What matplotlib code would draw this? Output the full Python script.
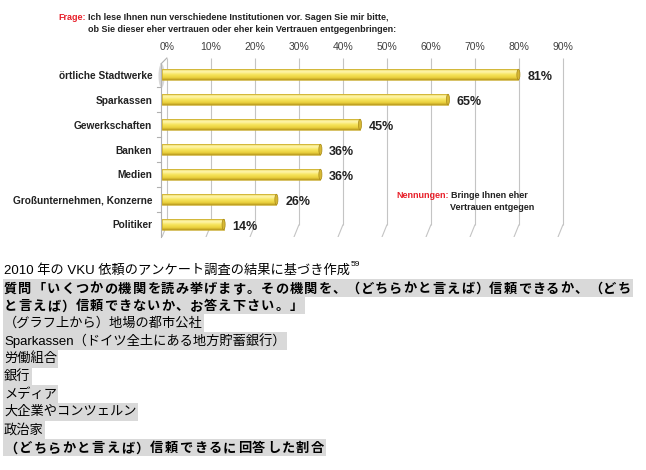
#!/usr/bin/env python3
"""
Vertrauen in Institutionen (VKU 2010) - Balkendiagramm mit japanischer Legende darunter
"""

import numpy as np
import matplotlib.pyplot as plt
from matplotlib.patches import Rectangle, Ellipse
from matplotlib.colors import LinearSegmentedColormap

# data
categories = ["örtliche Stadtwerke", "Sparkassen", "Gewerkschaften", "Banken",
              "Medien", "Großunternehmen, Konzerne", "Politiker"]
values = [81, 65, 45, 36, 36, 26, 14]
ticks = np.arange(0, 100, 10)
tick_labels = [f"{t}%" for t in ticks]

question = ["Ich lese Ihnen nun verschiedene Institutionen vor. Sagen Sie mir bitte,",
            "ob Sie dieser eher vertrauen oder eher kein Vertrauen entgegenbringen:"]
mentions = ["Bringe Ihnen eher", "Vertrauen entgegen"]

source_line = "2010 年の VKU 依頼のアンケート調査の結果に基づき作成"
source_note = "59"
# first line is cut at the right edge of the page, as in the original
jp_lines = ["質問「いくつかの機関を読み挙げます。その機関を、（どちらかと言えば）信頼できるか、（どち",
            "と言えば）信頼できないか、お答え下さい。」",
            "（グラフ上から）地場の都市公社",
            "Sparkassen（ドイツ全土にある地方貯蓄銀行）",
            "労働組合",
            "銀行",
            "メディア",
            "大企業やコンツェルン",
            "政治家",
            "（どちらかと言えば）信頼できるに回答した割合"]
jp_bold = [True, True, False, False, False, False, False, False, False, True]

W, H = 646, 470
LAT = "Liberation Sans"
JP = [LAT, "Noto Sans CJK JP", "DejaVu Sans"]


def fx(x):
	return x / W


def fy(y):
	return 1 - y / H


fig = plt.figure(figsize=(W / 100, H / 100), dpi=100)
fig.patch.set_facecolor("white")

# chart area (pixels: left 162, right 566, top 58, bottom 237)
ax = fig.add_axes([fx(162), fy(237), fx(404), 179 / H])
px_per_pct = 4.4
ax.set_xlim(0, 404 / px_per_pct)
row0, row_h = 74.5, 25.0
ax.set_ylim((237 - row0) / row_h, (58 - row0) / row_h)
for s in ax.spines.values():
	s.set_visible(False)

depth = 1.1                       # 3d offset of back wall in %
wall_bottom = (225 - row0) / row_h
floor = (237 - row0) / row_h
top = (58 - row0) / row_h
grid_col = "#c4c4c4"

ax.vlines(ticks + depth, top, wall_bottom, color=grid_col, lw=0.8, zorder=1)
for t in ticks:
	ax.plot([t + depth, t], [wall_bottom, floor], color=grid_col, lw=0.8, zorder=1)
# left wall
lw_x = -0.25
front_top = (64 - row0) / row_h
ax.plot([lw_x, lw_x], [front_top, floor], color="#b0b0b0", lw=0.8, clip_on=False, zorder=1)
ax.plot([lw_x, depth], [front_top, top], color="#b0b0b0", lw=0.8, clip_on=False, zorder=1)
for b in np.arange(len(categories) - 1) + 0.5:
	ax.plot([lw_x - 1.0, lw_x], [b, b], color="#b0b0b0", lw=0.8, clip_on=False, zorder=1)
# soft shadow on the left wall next to the first bar
ax.add_patch(Ellipse((-0.1, 0.05), 1.4, 0.95, fc="#b8b8b8", ec="none", alpha=0.55,
                     clip_on=False, zorder=1))

# cylinder bars
cyl = LinearSegmentedColormap.from_list("cyl", [(0, "#e8d24e"), (0.22, "#fff7b4"),
                                                (0.5, "#f7e55c"), (0.8, "#ead03c"),
                                                (1, "#b4941c")])
grad = np.linspace(0, 1, 64).reshape(-1, 1)
bar_h = 0.42
for i, v in enumerate(values):
	ax.imshow(grad, cmap=cyl, aspect="auto", interpolation="bicubic",
	          extent=[0, v, i + bar_h / 2, i - bar_h / 2], zorder=3)
	ax.add_patch(Rectangle((0, i - bar_h / 2), v, bar_h, fill=False,
	                       ec="#c8aa2a", lw=0.5, zorder=4))
	ax.add_patch(Ellipse((v, i), 0.7, bar_h, fc="#d6b834", ec="#a98a18", lw=0.5, zorder=5))
	ax.add_patch(Ellipse((0, i), 0.6, bar_h, fc="#f4e060", ec="#c8aa2a", lw=0.4, zorder=2))
	ax.text(v + 2.0, i + 0.1, f"{v}%", fontsize=9, fontweight="bold", family=LAT,
	        color="#222222", va="center", ha="left", zorder=6)

ax.set_yticks(range(len(categories)))
ax.set_yticklabels(categories, fontsize=7.3, fontweight="bold", family=LAT, color="#222222")
ax.tick_params(axis="y", length=0, pad=7)
ax.xaxis.tick_top()
ax.set_xticks(ticks + depth)
ax.set_xticklabels(tick_labels, fontsize=7.5, family=LAT, color="#404040")
ax.tick_params(axis="x", length=0, pad=4)

# header
hs = 6.5
fig.text(fx(58), fy(18), "Frage:", color="#e8202a", fontsize=hs, fontweight="bold",
         family=LAT, va="center")
fig.text(fx(88), fy(18), question[0], color="#222222", fontsize=hs, fontweight="bold",
         family=LAT, va="center")
fig.text(fx(88), fy(29.5), question[1], color="#222222", fontsize=hs, fontweight="bold",
         family=LAT, va="center")

fig.text(fx(396), fy(196), "Nennungen:", color="#e8202a", fontsize=hs, fontweight="bold",
         family=LAT, va="center")
fig.text(fx(451), fy(196), mentions[0], color="#222222", fontsize=hs, fontweight="bold",
         family=LAT, va="center")
fig.text(fx(450), fy(208), mentions[1], color="#222222", fontsize=hs, fontweight="bold",
         family=LAT, va="center")

# japanese notes below the chart
line0, line_h = 270.0, 17.75
jp_size = 9.5
size_px = jp_size * 100 / 72
src = fig.text(fx(4), fy(line0), source_line, fontsize=jp_size, family=JP, va="center")

fig.canvas.draw()
r = fig.canvas.get_renderer()
ext = src.get_window_extent(r)
fig.text(fx(ext.x1 + 1), fy(line0 - 5), source_note, fontsize=6, family=LAT, va="center")

for k, (line, bold) in enumerate(zip(jp_lines, jp_bold)):
	y = line0 + (k + 1) * line_h
	if bold:
		# letter spaced bold lines: every glyph on a fixed advance
		adv = 14.6 if k == len(jp_lines) - 1 else 14.27
		base = y + 0.37 * size_px
		for j, ch in enumerate(line):
			fig.text(fx(4 + j * adv), fy(base), ch, fontsize=jp_size, family=JP,
			         fontweight="bold", va="baseline", ha="left", zorder=3)
		right = 4 + len(line) * adv
	else:
		t = fig.text(fx(4), fy(y), line, fontsize=jp_size, family=JP, va="center", zorder=3)
		right = t.get_window_extent(r).x1
	fig.add_artist(Rectangle((fx(3), fy(y + line_h / 2)), fx(right + 1 - 3), line_h / H,
	                         transform=fig.transFigure, fc="#d9d9d9", ec="none", zorder=1))

fig.savefig("out.png", dpi=100)
